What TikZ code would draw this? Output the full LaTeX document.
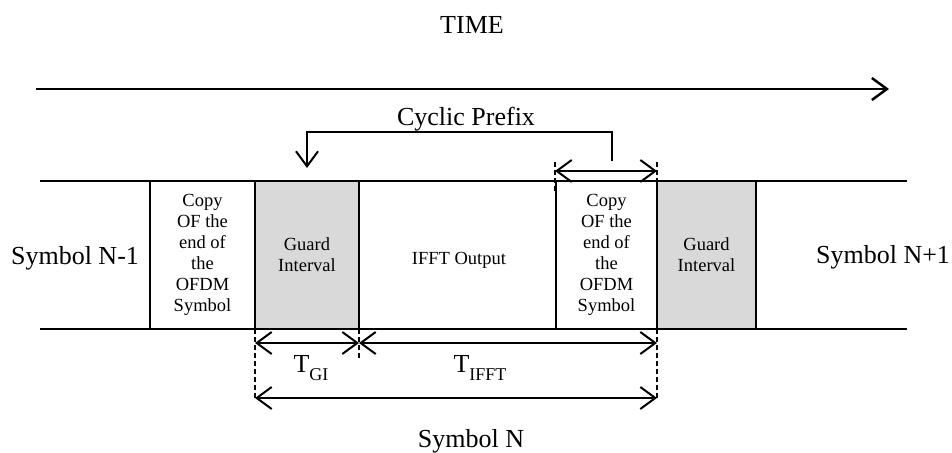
\documentclass[tikz,border=0pt]{standalone}
\usepackage{fontspec}
\setmainfont{Liberation Serif}
\usetikzlibrary{arrows.meta,positioning}
\newcommand{\tsub}[1]{\raisebox{-0.3em}{\fontsize{18}{18}\selectfont #1}}

\begin{document}
\begin{tikzpicture}[x=1pt, y=-1pt,
      big/.style={font=\fontsize{26}{30}\selectfont},
      small/.style={font=\fontsize{18.5}{21}\selectfont, align=center},
      slot/.style={draw, fill=white, line width=1.8pt, minimum height=148pt, inner sep=0pt,
                   outer sep=0pt, anchor=north west, small},
      guard/.style={slot, fill=gray!30},
      rail/.style={line width=1.8pt},
      barb/.tip={Straight Barb[length=15pt,width=22pt]},
      dim/.style={line width=2pt, barb-barb},
      tick/.style={line width=1.2pt, dash pattern=on 5pt off 3pt}]
      \useasboundingbox (0,0) rectangle (952,452);
      % time axis
      \coordinate (tA) at (36,89);
      \coordinate (tB) at (889,89);
      \draw[line width=2.5pt, -barb] (tA) -- (tB);
      \node[big] (time) at (472,25) {TIME};
      % rails
      \coordinate (rTL) at (40,181);
      \coordinate (rTR) at (907,181);
      \coordinate (rBL) at (40,329);
      \coordinate (rBR) at (907,329);
      \draw[rail] (rTL) -- (rTR)
                  (rBL) -- (rBR);
      % slots
      \node[slot, minimum width=105pt] (cpA) at (150,181) {Copy\\OF the\\end of\\the\\OFDM\\Symbol};
      \node[guard, minimum width=104pt] (giA) at (cpA.north east) {Guard\\Interval};
      \node[small] (ifft) at (459,260) {IFFT Output};
      \node[slot, minimum width=101pt] (cpB) at (556,181) {Copy\\OF the\\end of\\the\\OFDM\\Symbol};
      \node[guard, minimum width=99pt] (giB) at (cpB.north east) {Guard\\Interval};
      \node[big] (prev) at (75,258) {Symbol N-1};
      \node[big] (next) at (883,257) {Symbol N+1};
      % cyclic prefix
      \coordinate (cpTop) at (612,161);
      \coordinate (cpTurn) at (307,132);
      \coordinate (cpDown) at (307,168);
      \draw[line width=2pt, -barb] (cpTop) |- (cpTurn) -- (cpDown);
      \node[big, anchor=base] (cyc) at (466,125) {Cyclic Prefix};
      \coordinate (cpL) at (555,171);
      \coordinate (cpR) at (657,171);
      \draw[tick] (555,162) -- (555,192)
                  (657,162) -- (657,181);
      \draw[dim] (cpL) -- (cpR);
      % durations
      \coordinate (gL) at (255,343);
      \coordinate (gM) at (359,343);
      \coordinate (gR) at (657,343);
      \coordinate (sL) at (255,398);
      \coordinate (sR) at (657,398);
      \draw[tick] (giA.south west) -- (sL)
                  (giA.south east) -- (359,360)
                  (cpB.south east) -- (sR);
      \draw[dim] (gL) -- (gM);
      \draw[dim] (gM) -- (gR);
      \draw[dim] (sL) -- (sR);
      \node[big] (tgi) at (311,368) {T\tsub{GI}};
      \node[big] (tifft) at (480,368) {T\tsub{IFFT}};
      \node[big] (symN) at (471,441) {Symbol N};
\end{tikzpicture}
\end{document}
